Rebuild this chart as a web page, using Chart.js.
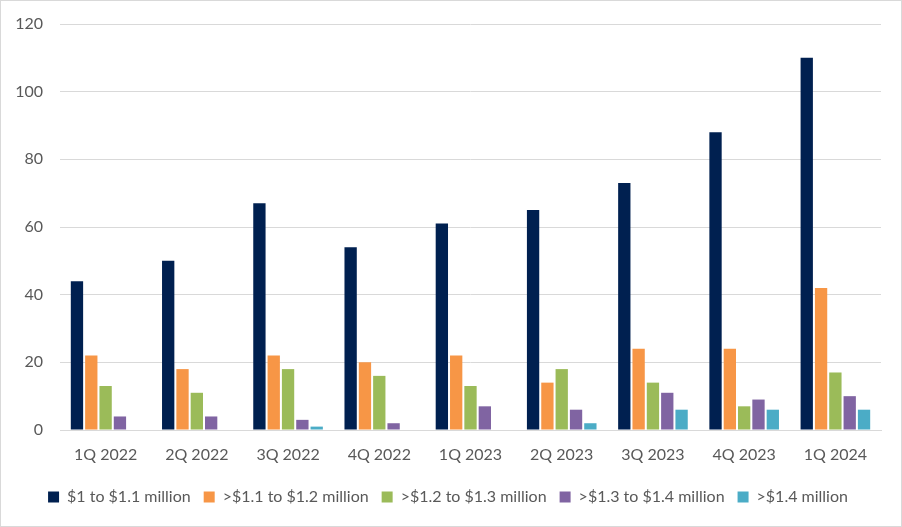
<!DOCTYPE html>
<html>
<head>
<meta charset="utf-8">
<script src="https://cdn.jsdelivr.net/npm/chart.js@4/dist/chart.umd.min.js"></script>
<style>
html,body{margin:0;padding:0;background:#fff;}
#wrap{position:relative;width:902px;height:527px;box-sizing:border-box;border:1px solid #d9d9d9;background:#fff;}
canvas{display:block;}
</style>
</head>
<body>
<div id="wrap"><canvas id="c" width="900" height="525"></canvas></div>
<script>
const categories = ["1Q 2022","2Q 2022","3Q 2022","4Q 2022","1Q 2023","2Q 2023","3Q 2023","4Q 2023","1Q 2024"];
const seriesNames = ["$1 to $1.1 million", ">$1.1 to $1.2 million", ">$1.2 to $1.3 million", ">$1.3 to $1.4 million", ">$1.4 million"];
const s1 = [44, 50, 67, 54, 61, 65, 73, 88, 110];
const s2 = [22, 18, 22, 20, 22, 14, 24, 24, 42];
const s3 = [13, 11, 18, 16, 13, 18, 14, 7, 17];
const s4 = [4, 4, 3, 2, 7, 6, 11, 9, 10];
const s5 = [0, 0, 1, 0, 0, 2, 6, 6, 6];
const yTicks = [0, 20, 40, 60, 80, 100, 120];
const colors = ["#002050", "#F79646", "#9BBB59", "#8064A2", "#4BACC6"];

const seriesValues = [s1, s2, s3, s4, s5];
const FONT = "Lato, 'Liberation Sans', Arial, sans-serif";
Chart.defaults.font.family = FONT;
Chart.defaults.color = "#595959";

new Chart(document.getElementById('c'), {
  type: 'bar',
  data: {
    labels: categories,
    datasets: seriesValues.map((v, i) => ({
      label: seriesNames[i],
      data: v,
      backgroundColor: colors[i],
      borderWidth: 0,
      categoryPercentage: 0.785,
      barPercentage: 0.86
    }))
  },
  options: {
    responsive: false,
    animation: false,
    devicePixelRatio: 1,
    layout: { padding: { left: 14, right: 20, top: 23, bottom: 11 } },
    plugins: {
      tooltip: { enabled: false },
      legend: {
        position: 'bottom',
        labels: {
          boxWidth: 11,
          boxHeight: 11,
          padding: 13,
          font: { size: 16, family: FONT },
          color: "#595959"
        }
      }
    },
    scales: {
      x: {
        afterFit: (ax) => { ax.height = 46; },
        grid: { display: false, drawTicks: false },
        border: { color: "#d9d9d9", width: 1 },
        ticks: { font: { size: 16 }, color: "#595959", padding: 15, maxRotation: 0 }
      },
      y: {
        min: 0, max: 120,
        afterBuildTicks: (ax) => { ax.ticks = yTicks.map(v => ({ value: v })); },
        afterFit: (ax) => { ax.width = 45; ax.paddingTop = 0; ax.paddingBottom = 0; },
        grid: { color: "#d9d9d9", lineWidth: 1, drawTicks: false },
        border: { display: false },
        ticks: { font: { size: 16 }, color: "#595959", padding: 17 }
      }
    }
  }
});
</script>
</body>
</html>
